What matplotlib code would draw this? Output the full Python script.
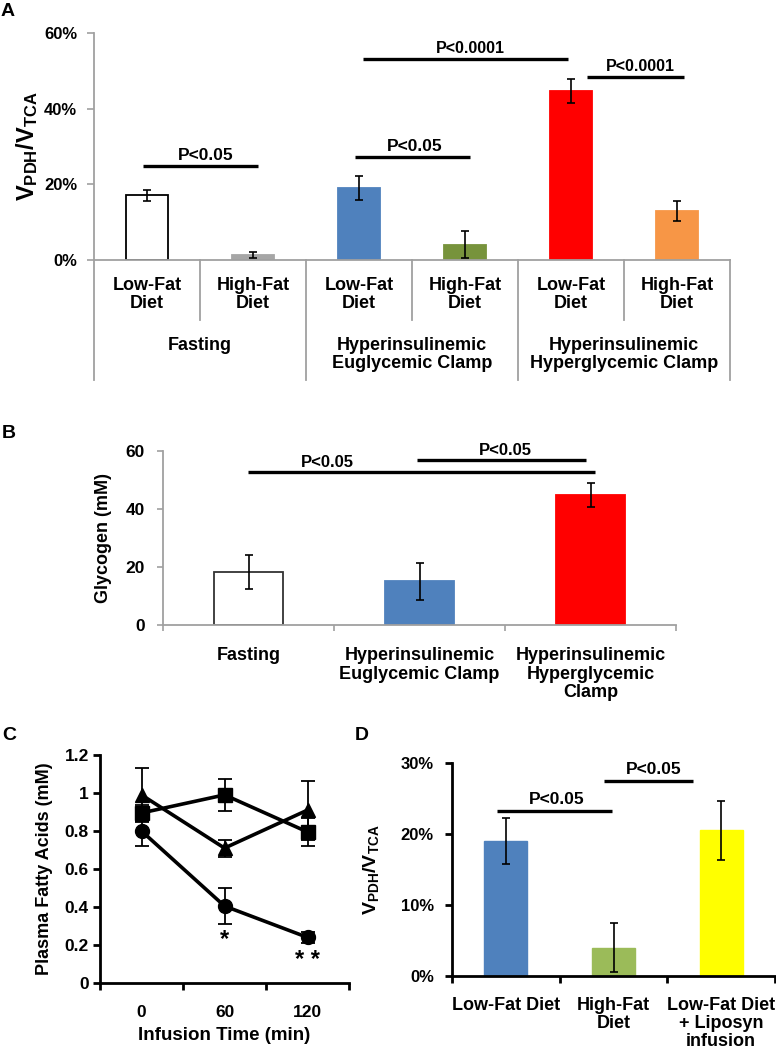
import matplotlib
matplotlib.use("Agg")
import matplotlib.pyplot as plt
import matplotlib.transforms as mtransforms
from matplotlib.ticker import FixedLocator, FuncFormatter

plt.rcParams['font.family'] = ['Liberation Sans', 'DejaVu Sans']
plt.rcParams['font.weight'] = 'bold'
plt.rcParams['mathtext.fontset'] = 'custom'
plt.rcParams['mathtext.rm'] = 'Liberation Sans:bold'
plt.rcParams['mathtext.bf'] = 'Liberation Sans:bold'
plt.rcParams['mathtext.it'] = 'Liberation Sans:bold'
plt.rcParams['mathtext.default'] = 'bf'

# ---------------- data ----------------
# Panel A
a_diets = ["Low-Fat\nDiet", "High-Fat\nDiet"] * 3
a_groups = ["Fasting", "Hyperinsulinemic\nEuglycemic Clamp", "Hyperinsulinemic\nHyperglycemic Clamp"]
a_values = [17.1, 1.2, 19.0, 4.0, 44.6, 13.0]
a_errors = [1.4, 0.8, 3.2, 3.6, 3.2, 2.7]
a_colors = ["white", "#A6A6A6", "#4F81BD", "#77933C", "#FF0000", "#F79646"]
a_edges = ["black", "#A6A6A6", "#4F81BD", "#77933C", "#FF0000", "#F79646"]
a_yticks = [0, 20, 40, 60]

# Panel B
b_cats = ["Fasting", "Hyperinsulinemic\nEuglycemic Clamp", "Hyperinsulinemic\nHyperglycemic\nClamp"]
b_values = [18.3, 15.1, 44.8]
b_errors = [5.8, 6.4, 4.1]
b_colors = ["white", "#4F81BD", "#FF0000"]
b_edges = ["#333333", "#4F81BD", "#FF0000"]
b_yticks = [0, 20, 40, 60]

# Panel C
c_times = ["0", "60", "120"]
c_circle = [0.80, 0.405, 0.24]
c_circle_err = [0.08, 0.095, 0.03]
c_square = [0.895, 0.99, 0.795]
c_square_err = [0.04, 0.085, 0.075]
c_triangle = [0.99, 0.71, 0.91]
c_triangle_err = [0.14, 0.045, 0.155]
c_yticks = [0, 0.2, 0.4, 0.6, 0.8, 1.0, 1.2]
c_yticklabels = ["0", "0.2", "0.4", "0.6", "0.8", "1", "1.2"]

# Panel D
d_cats = ["Low-Fat Diet", "High-Fat\nDiet", "Low-Fat Diet\n+ Liposyn\ninfusion"]
d_values = [19.0, 4.0, 20.5]
d_errors = [3.2, 3.5, 4.2]
d_colors = ["#4F81BD", "#9BBB59", "#FFFF00"]
d_yticks = [0, 10, 20, 30]

W, H = 776, 1050
fig = plt.figure(figsize=(W / 100, H / 100), dpi=100)


def rect(l, r, t, b):
    return [l / W, 1 - b / H, (r - l) / W, (b - t) / H]


def sig(ax, x0, x1, y, tx, ty, text, size, lw=2.4):
    ax.plot([x0, x1], [y, y], color="black", lw=lw, clip_on=False, solid_capstyle="butt")
    ax.text(tx, ty, text, ha="center", va="center", fontsize=size, fontweight="bold", clip_on=False)


pct = FuncFormatter(lambda v, p: f"{int(round(v))}%")
gray = "#A0A0A0"

# ---------------- Panel A ----------------
A_l, A_r, A_t, A_b = 94, 730, 33, 260
axA = fig.add_axes(rect(A_l, A_r, A_t, A_b))
xa = [i + 0.5 for i in range(len(a_values))]
axA.bar(xa, a_values, width=0.4, color=a_colors, edgecolor=a_edges, linewidth=1.3, zorder=2)
axA.errorbar(xa, a_values, yerr=a_errors, fmt="none", ecolor="black", elinewidth=1.2, capsize=3, capthick=1.2, zorder=3)
axA.set_xlim(0, 6)
axA.set_ylim(0, 60)
axA.yaxis.set_major_locator(FixedLocator(a_yticks))
axA.yaxis.set_major_formatter(pct)
for s in ["top", "right", "bottom"]:
    axA.spines[s].set_visible(False)
axA.spines["left"].set_color(gray)
axA.spines["left"].set_linewidth(1.3)
axA.tick_params(axis="y", colors=gray, length=5, width=1.2, pad=7, labelsize=12, labelcolor="black")
axA.set_xticks([])
axA.set_ylabel(r"$V_{PDH}/V_{TCA}$", fontsize=17, labelpad=4)
axA.yaxis.set_label_coords(-0.085, 0.5)
tA = mtransforms.blended_transform_factory(axA.transData, axA.transAxes)
hA = A_b - A_t


def fyA(y):
    return (A_b - y) / hA


axA.plot([0, 6], [0, 0], color=gray, lw=1.3, transform=tA, clip_on=False)
for i in range(7):
    yb = 380 if i % 2 == 0 else 320
    axA.plot([i, i], [0, fyA(yb)], color=gray, lw=1.3, transform=tA, clip_on=False)
for i, lab in enumerate(a_diets):
    axA.text(i + 0.5, fyA(277), lab, transform=tA, ha="center", va="top", fontsize=13,
             fontweight="bold", linespacing=1.1)
for g, lab in enumerate(a_groups):
    axA.text(2 * g + 1, fyA(337), lab, transform=tA, ha="center", va="top", fontsize=13,
             fontweight="bold", linespacing=1.1)
sig(axA, 0.46, 1.55, 24.8, 1.05, 27.6, "P<0.05", 12.5)
sig(axA, 2.46, 3.55, 27.2, 3.03, 30.0, "P<0.05", 12.5)
sig(axA, 2.54, 4.47, 53.1, 3.55, 55.9, "P<0.0001", 11.5)
sig(axA, 4.65, 5.57, 48.4, 5.15, 51.2, "P<0.0001", 11.5)

# ---------------- Panel B ----------------
B_l, B_r, B_t, B_b = 163, 676, 451, 625
axB = fig.add_axes(rect(B_l, B_r, B_t, B_b))
xb = [i + 0.5 for i in range(len(b_values))]
axB.bar(xb, b_values, width=0.4, color=b_colors, edgecolor=b_edges, linewidth=1.3, zorder=2)
axB.errorbar(xb, b_values, yerr=b_errors, fmt="none", ecolor="black", elinewidth=1.2, capsize=3, capthick=1.2, zorder=3)
axB.set_xlim(0, 3)
axB.set_ylim(0, 60)
axB.yaxis.set_major_locator(FixedLocator(b_yticks))
for s in ["top", "right"]:
    axB.spines[s].set_visible(False)
for s in ["left", "bottom"]:
    axB.spines[s].set_color(gray)
    axB.spines[s].set_linewidth(1.3)
axB.tick_params(axis="y", colors=gray, length=4, width=1.2, pad=9, labelsize=12.5, labelcolor="black")
axB.xaxis.set_major_locator(FixedLocator([0.5, 1.5, 2.5]))
axB.xaxis.set_minor_locator(FixedLocator([0, 1, 2, 3]))
axB.set_xticklabels(b_cats, fontsize=13, fontweight="bold", linespacing=1.1)
axB.tick_params(axis="x", which="major", length=0, pad=16)
axB.tick_params(axis="x", which="minor", colors=gray, length=4, width=1.2)
for t in axB.get_xticklabels():
    t.set_verticalalignment("top")
axB.set_ylabel("Glycogen (mM)", fontsize=13, fontweight="bold")
axB.yaxis.set_label_coords(-0.1, 0.5)
sig(axB, 0.497, 2.526, 52.8, 0.96, 56.0, "P<0.05", 12)
sig(axB, 1.485, 2.474, 56.9, 2.0, 60.3, "P<0.05", 12)

# ---------------- Panel C ----------------
C_l, C_r, C_t, C_b = 100, 349, 755, 983
axC = fig.add_axes(rect(C_l, C_r, C_t, C_b))
xc = [0.5, 1.5, 2.5]
kw = dict(color="black", lw=2.6, markersize=10, ecolor="black", elinewidth=1.3, capsize=5, capthick=1.3, zorder=3)
axC.errorbar(xc, c_triangle, yerr=c_triangle_err, marker="^", **kw)
axC.errorbar(xc, c_square, yerr=c_square_err, marker="s", **kw)
axC.errorbar(xc, c_circle, yerr=c_circle_err, marker="o", **kw)
axC.set_xlim(0, 3)
axC.set_ylim(0, 1.2)
axC.yaxis.set_major_locator(FixedLocator(c_yticks))
axC.set_yticklabels(c_yticklabels)
axC.xaxis.set_major_locator(FixedLocator(xc))
axC.set_xticklabels(c_times)
axC.xaxis.set_minor_locator(FixedLocator([0, 1, 2, 3]))
for s in ["top", "right"]:
    axC.spines[s].set_visible(False)
for s in ["left", "bottom"]:
    axC.spines[s].set_linewidth(2)
axC.tick_params(axis="y", length=5, width=2, pad=3, labelsize=12.5)
axC.tick_params(axis="x", which="major", length=0, pad=16, labelsize=12.5)
axC.tick_params(axis="x", which="minor", length=5, width=2)
axC.set_ylabel("Plasma Fatty Acids (mM)", fontsize=13, fontweight="bold")
axC.yaxis.set_label_coords(-0.19, 0.5)
axC.set_xlabel("Infusion Time (min)", fontsize=13.5, fontweight="bold", labelpad=5)
axC.text(1.5, 0.23, "*", ha="center", va="center", fontsize=17, fontweight="bold")
axC.text(2.5, 0.12, "* *", ha="center", va="center", fontsize=17, fontweight="bold")

# ---------------- Panel D ----------------
D_l, D_r, D_t, D_b = 452, 775, 763, 976
axD = fig.add_axes(rect(D_l, D_r, D_t, D_b))
xd = [0.5, 1.5, 2.5]
axD.bar(xd, d_values, width=0.4, color=d_colors, edgecolor=d_colors, linewidth=1, zorder=2)
axD.errorbar(xd, d_values, yerr=d_errors, fmt="none", ecolor="black", elinewidth=1.2, capsize=3, capthick=1.2, zorder=3)
axD.set_xlim(0, 3)
axD.set_ylim(0, 30)
axD.yaxis.set_major_locator(FixedLocator(d_yticks))
axD.yaxis.set_major_formatter(pct)
axD.xaxis.set_major_locator(FixedLocator(xd))
axD.set_xticklabels(d_cats, fontsize=13, fontweight="bold", linespacing=1.1)
for t in axD.get_xticklabels():
    t.set_verticalalignment("top")
axD.xaxis.set_minor_locator(FixedLocator([0, 1, 2, 3]))
for s in ["top", "right"]:
    axD.spines[s].set_visible(False)
for s in ["left", "bottom"]:
    axD.spines[s].set_linewidth(2)
axD.tick_params(axis="y", length=5, width=2, pad=8, labelsize=12)
axD.tick_params(axis="x", which="major", length=0, pad=15)
axD.tick_params(axis="x", which="minor", length=5, width=2)
axD.set_ylabel(r"$V_{PDH}/V_{TCA}$", fontsize=14)
axD.yaxis.set_label_coords(-0.22, 0.5)
sig(axD, 0.418, 1.486, 23.2, 0.975, 24.9, "P<0.05", 12.5)
sig(axD, 1.41, 2.24, 27.5, 1.87, 29.1, "P<0.05", 12.5)

# ---------------- panel letters ----------------
for lab, x, y in [("A", 1, 11), ("B", 2, 433), ("C", 2, 735), ("D", 355, 735)]:
    fig.text(x / W, 1 - y / H, lab, fontsize=14, fontweight="bold", ha="left", va="center")

fig.savefig("out.png", dpi=100)
